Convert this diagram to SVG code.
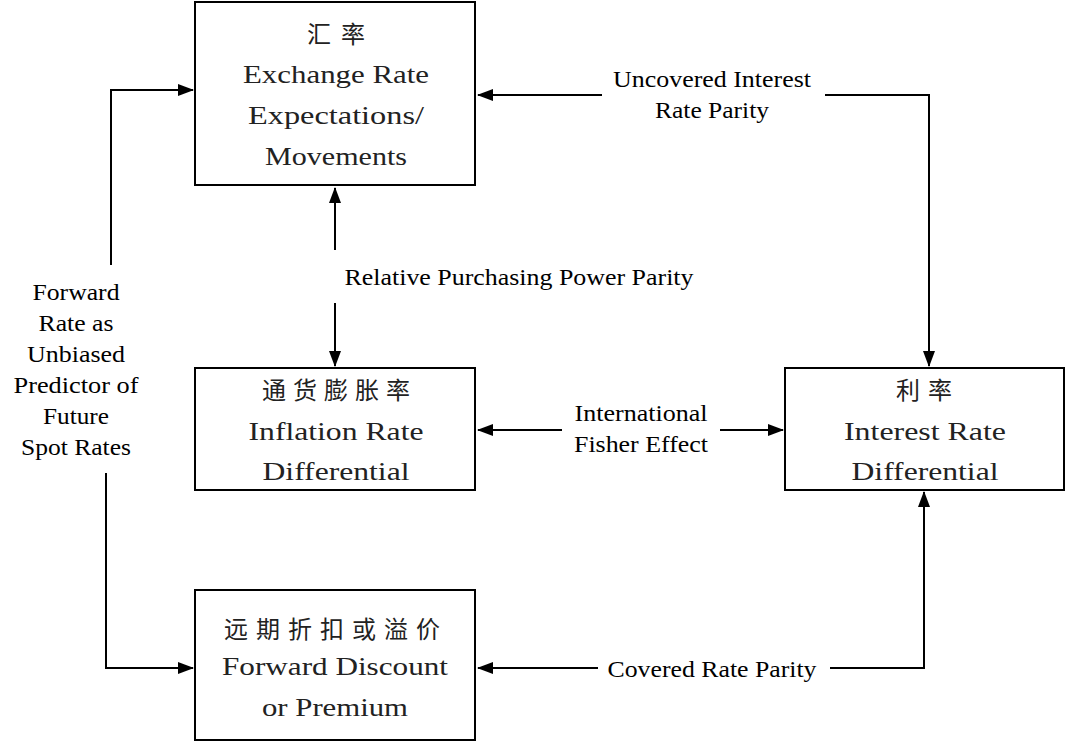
<svg xmlns="http://www.w3.org/2000/svg" width="1066" height="742" viewBox="0 0 1066 742">
<style>
.box{fill:#fff;stroke:#000;stroke-width:2}
.bt{font-family:"Liberation Serif","Times New Roman",serif;font-size:26px;fill:#222;text-anchor:middle}
.cn{font-family:"Noto Sans CJK SC",sans-serif;font-size:24px;fill:#222;text-anchor:middle}
.lb{font-family:"Liberation Serif","Times New Roman",serif;font-size:23px;fill:#000;text-anchor:middle}
.ln{fill:none;stroke:#000;stroke-width:2}
</style>
<defs>
<marker id="ah" markerUnits="userSpaceOnUse" markerWidth="16" markerHeight="12" refX="15" refY="6" orient="auto">
<path d="M0,0 L16,6 L0,12 Z" fill="#000"/>
</marker>
</defs>
<rect width="1066" height="742" fill="#fff"/>
<g id="n-exchange">
<rect class="box" x="195" y="2" width="280" height="183"/>
<text class="cn" x="336" y="43" textLength="58" lengthAdjust="spacing">汇率</text>
<text class="bt" x="336" y="83" textLength="186" lengthAdjust="spacingAndGlyphs">Exchange Rate</text>
<text class="bt" x="336" y="124" textLength="176" lengthAdjust="spacingAndGlyphs">Expectations/</text>
<text class="bt" x="336" y="165" textLength="142" lengthAdjust="spacingAndGlyphs">Movements</text>
</g>
<g id="n-inflation">
<rect class="box" x="195" y="368" width="280" height="122"/>
<text class="cn" x="336" y="399" textLength="148" lengthAdjust="spacing">通货膨胀率</text>
<text class="bt" x="336" y="440" textLength="175" lengthAdjust="spacingAndGlyphs">Inflation Rate</text>
<text class="bt" x="336" y="480" textLength="147" lengthAdjust="spacingAndGlyphs">Differential</text>
</g>
<g id="n-interest">
<rect class="box" x="785" y="368" width="279" height="122"/>
<text class="cn" x="924" y="399" textLength="56" lengthAdjust="spacing">利率</text>
<text class="bt" x="925" y="440" textLength="162" lengthAdjust="spacingAndGlyphs">Interest Rate</text>
<text class="bt" x="925" y="480" textLength="147" lengthAdjust="spacingAndGlyphs">Differential</text>
</g>
<g id="n-forward">
<rect class="box" x="195" y="590" width="280" height="150"/>
<text class="cn" x="332" y="638" textLength="216" lengthAdjust="spacing">远期折扣或溢价</text>
<text class="bt" x="335" y="675" textLength="226" lengthAdjust="spacingAndGlyphs">Forward Discount</text>
<text class="bt" x="335" y="716" textLength="146" lengthAdjust="spacingAndGlyphs">or Premium</text>
</g>
<g id="connectors">
<path class="ln" d="M602,95 L478,95" marker-end="url(#ah)"/>
<path class="ln" d="M825,95 L929,95 L929,366" marker-end="url(#ah)"/>
<path class="ln" d="M335,250 L335,188" marker-end="url(#ah)"/>
<path class="ln" d="M335,303 L335,366" marker-end="url(#ah)"/>
<path class="ln" d="M111,265 L111,90 L193,90" marker-end="url(#ah)"/>
<path class="ln" d="M106,473 L106,668 L193,668" marker-end="url(#ah)"/>
<path class="ln" d="M562,430 L478,430" marker-end="url(#ah)"/>
<path class="ln" d="M720,430 L783,430" marker-end="url(#ah)"/>
<path class="ln" d="M598,668 L478,668" marker-end="url(#ah)"/>
<path class="ln" d="M830,668 L924,668 L924,492" marker-end="url(#ah)"/>
</g>
<g id="labels">
<text class="lb" x="712" y="87" textLength="198" lengthAdjust="spacingAndGlyphs">Uncovered Interest</text>
<text class="lb" x="712" y="118" textLength="114" lengthAdjust="spacingAndGlyphs">Rate Parity</text>
<text class="lb" x="519" y="285" textLength="349" lengthAdjust="spacingAndGlyphs">Relative Purchasing Power Parity</text>
<text class="lb" x="76" y="300" textLength="87" lengthAdjust="spacingAndGlyphs">Forward</text>
<text class="lb" x="76" y="331" textLength="75" lengthAdjust="spacingAndGlyphs">Rate as</text>
<text class="lb" x="76" y="362" textLength="98" lengthAdjust="spacingAndGlyphs">Unbiased</text>
<text class="lb" x="76" y="393" textLength="125" lengthAdjust="spacingAndGlyphs">Predictor of</text>
<text class="lb" x="76" y="424" textLength="66" lengthAdjust="spacingAndGlyphs">Future</text>
<text class="lb" x="76" y="455" textLength="110" lengthAdjust="spacingAndGlyphs">Spot Rates</text>
<text class="lb" x="641" y="421" textLength="133" lengthAdjust="spacingAndGlyphs">International</text>
<text class="lb" x="641" y="452" textLength="134" lengthAdjust="spacingAndGlyphs">Fisher Effect</text>
<text class="lb" x="712" y="677" textLength="209" lengthAdjust="spacingAndGlyphs">Covered Rate Parity</text>
</g>
</svg>
